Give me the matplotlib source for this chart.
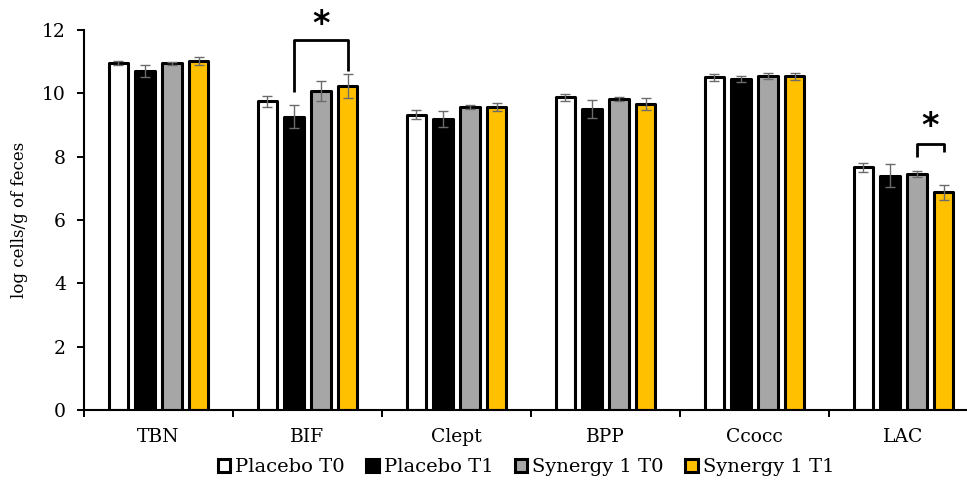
import numpy as np
import matplotlib
matplotlib.use("Agg")
import matplotlib.pyplot as plt

categories = ["TBN", "BIF", "Clept", "BPP", "Ccocc", "LAC"]
groups = ["Placebo T0", "Placebo T1", "Synergy 1 T0", "Synergy 1 T1"]

placebo_t0 = [10.95, 9.75, 9.33, 9.87, 10.51, 7.66]
placebo_t1 = [10.71, 9.26, 9.20, 9.51, 10.46, 7.40]
synergy_t0 = [10.95, 10.08, 9.56, 9.82, 10.54, 7.45]
synergy_t1 = [11.03, 10.23, 9.56, 9.66, 10.54, 6.87]

placebo_t0_err = [0.07, 0.18, 0.13, 0.12, 0.11, 0.13]
placebo_t1_err = [0.20, 0.36, 0.25, 0.29, 0.09, 0.36]
synergy_t0_err = [0.05, 0.31, 0.06, 0.05, 0.09, 0.10]
synergy_t1_err = [0.12, 0.37, 0.12, 0.20, 0.11, 0.25]

colors = ["white", "black", "#a6a6a6", "#ffc000"]

# significance brackets: (category, bar a, bar b, top, left leg end, right leg end, star y)
brackets = [
    (1, 1, 3, 11.68, 10.05, 10.70, 12.16),
    (5, 2, 3, 8.40, 8.00, 8.16, 8.94),
]

values = [placebo_t0, placebo_t1, synergy_t0, synergy_t1]
errors = [placebo_t0_err, placebo_t1_err, synergy_t0_err, synergy_t1_err]

plt.rcParams['font.family'] = ['DejaVu Serif']

fig = plt.figure(figsize=(9.67, 4.8), dpi=100)
ax = fig.add_axes([84 / 967, 1 - 410 / 480, 6 * 149 / 967, 380 / 480])

x = np.arange(len(categories))
step = 0.179
width = 0.134
offsets = (np.arange(len(groups)) - 1.5) * step

for i in range(len(groups)):
    ax.bar(x + offsets[i], values[i], width=width, color=colors[i],
           edgecolor="black", linewidth=2.2, label=groups[i], zorder=2,
           joinstyle="round")
    ax.errorbar(x + offsets[i], values[i], yerr=errors[i], fmt="none",
                ecolor="#6b6b6b", elinewidth=1.0, capsize=3.8, capthick=1.0,
                zorder=3)

for cat, a, b, top, left_end, right_end, star_y in brackets:
    xa = cat + offsets[a]
    xb = cat + offsets[b]
    ax.plot([xa, xa, xb, xb], [left_end, top, top, right_end], color="black",
            linewidth=2.0, solid_joinstyle="round", solid_capstyle="butt",
            zorder=4, clip_on=False)
    ax.text((xa + xb) / 2, star_y, "*", ha="center", va="center",
            fontsize=24, fontweight="bold", family="DejaVu Sans", clip_on=False)

ax.set_xlim(-0.5, len(categories) - 0.5)
ax.set_ylim(0, 12)
ax.set_yticks(np.arange(0, 13, 2))

ax.set_xticks(x)
ax.set_xticklabels(categories)
ax.set_xticks(np.arange(-0.5, len(categories), 1.0), minor=True)
ax.tick_params(axis="x", which="major", length=0, pad=13, labelsize=13.5)
ax.tick_params(axis="x", which="minor", length=5, width=1.4, direction="out")
ax.tick_params(axis="y", length=5, width=1.4, pad=8, labelsize=13.5)

for side in ["top", "right"]:
    ax.spines[side].set_visible(False)
for side in ["left", "bottom"]:
    ax.spines[side].set_linewidth(1.5)

ax.set_ylabel("log cells/g of feces", fontsize=12, labelpad=10)

fig.legend(loc="center", bbox_to_anchor=(526 / 967, 1 - 467 / 480), ncol=4,
           frameon=False, fontsize=14, handlelength=0.65, handleheight=0.65,
           handletextpad=0.25, columnspacing=1.1, borderpad=0)

fig.savefig("out.png", dpi=100)
